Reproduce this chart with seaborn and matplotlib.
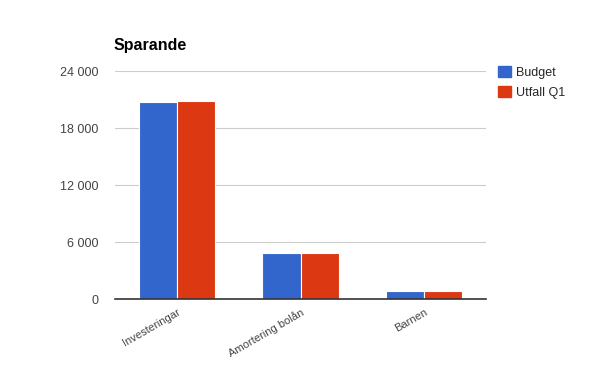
import matplotlib
matplotlib.use("Agg")
import matplotlib.pyplot as plt
import seaborn as sns
import pandas as pd
from matplotlib.ticker import FuncFormatter

categories = ["Investeringar", "Amortering bolån", "Barnen"]
budget = [20750, 4850, 850]
utfall = [20850, 4850, 850]
series_names = ["Budget", "Utfall Q1"]
yticks = [0, 6000, 12000, 18000, 24000]

df = pd.DataFrame({
    "Kategori": categories * 2,
    "Serie": [series_names[0]] * 3 + [series_names[1]] * 3,
    "Värde": budget + utfall,
})

sns.set_theme(style="white")
plt.rcParams['font.family'] = ['Liberation Sans', 'DejaVu Sans']

fig = plt.figure(figsize=(6, 3.71), dpi=100)
ax = fig.add_axes([0.1917, 0.194, 0.6183, 0.6146])

sns.barplot(data=df, x="Kategori", y="Värde", hue="Serie",
            palette=["#3366cc", "#dc3912"], width=0.615, ax=ax,
            edgecolor="white", linewidth=0.8, saturation=1)

ax.set_ylim(0, 24000)
ax.set_yticks(yticks)
ax.yaxis.set_major_formatter(FuncFormatter(lambda v, p: f"{int(v):,}".replace(",", " ")))
ax.grid(axis="y", color="#cccccc", linewidth=0.8)
ax.set_axisbelow(True)
for s in ["top", "right", "left"]:
    ax.spines[s].set_visible(False)
ax.spines["bottom"].set_color("#333333")
ax.spines["bottom"].set_linewidth(1.2)
ax.set_xlabel("")
ax.set_ylabel("")
ax.tick_params(axis="x", length=0, labelsize=8, colors="#444444", pad=6)
ax.tick_params(axis="y", length=0, labelsize=9, colors="#444444", pad=12)
plt.setp(ax.get_xticklabels(), rotation=30, ha="right", rotation_mode="anchor")
ax.set_xlim(-0.5, 2.5)

ax.legend_.remove()
handles = [plt.Rectangle((0, 0), 1, 1, color=c) for c in ["#3366cc", "#dc3912"]]
fig.legend(handles, series_names, loc="upper left", bbox_to_anchor=(0.822, 0.835),
           frameon=False, fontsize=9, handlelength=1.0, handleheight=1.0,
           handletextpad=0.4, labelspacing=0.55, borderaxespad=0)

fig.text(0.19, 0.865, "Sparande", fontsize=11.5, fontweight="bold", color="black")

fig.savefig("out.png", dpi=100, facecolor="white")
